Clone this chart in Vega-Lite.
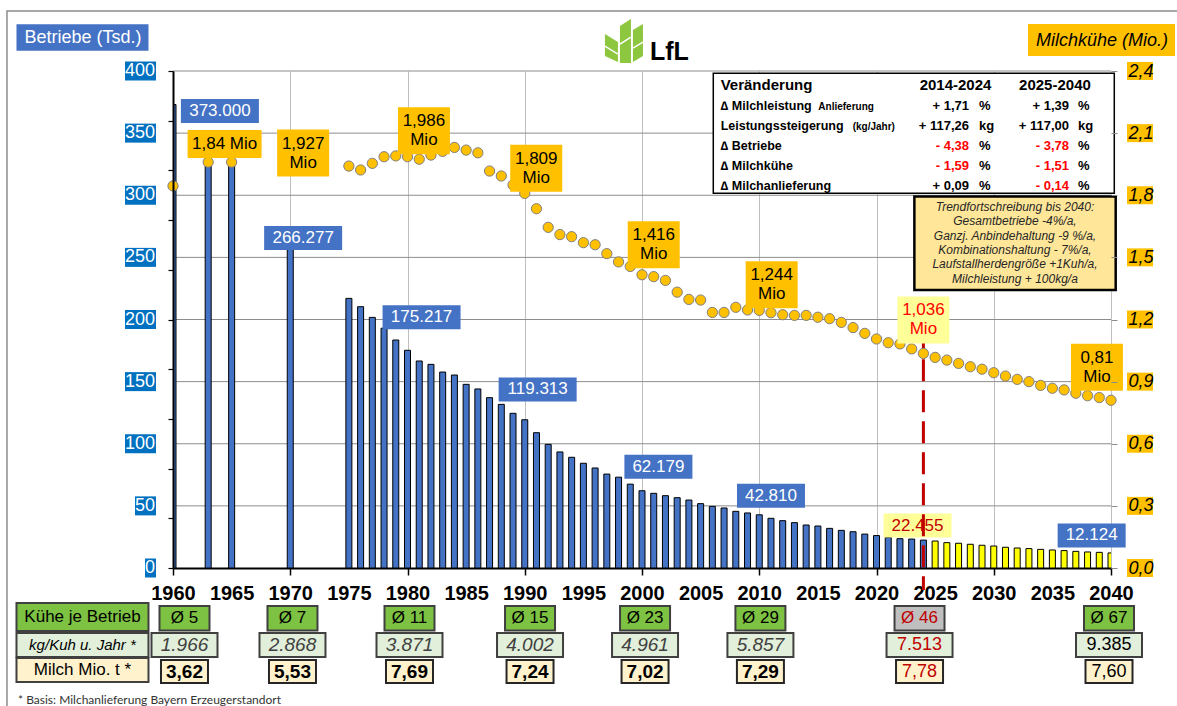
{
  "$schema": "https://vega.github.io/schema/vega-lite/v6.json",
  "width": 938,
  "height": 497,
  "autosize": {"type": "none"},
  "padding": {"left": 173, "top": 71, "right": 66, "bottom": 138},
  "background": "white",
  "config": {"font": "Liberation Sans", "view": {"stroke": null}, "scale": {"continuousPadding": 0}},
  "datasets": {
    "bars": [
      {"year":1960,"n":373.0,"typ":"Ist"},{"year":1963,"n":327,"typ":"Ist"},{"year":1965,"n":326,"typ":"Ist"},{"year":1970,"n":266.277,"typ":"Ist"},
      {"year":1975,"n":217,"typ":"Ist"},{"year":1976,"n":210.3,"typ":"Ist"},{"year":1977,"n":201.7,"typ":"Ist"},{"year":1978,"n":193,"typ":"Ist"},{"year":1979,"n":183.5,"typ":"Ist"},
      {"year":1980,"n":175.217,"typ":"Ist"},{"year":1981,"n":166.6,"typ":"Ist"},{"year":1982,"n":163.9,"typ":"Ist"},{"year":1983,"n":157.7,"typ":"Ist"},{"year":1984,"n":155.3,"typ":"Ist"},
      {"year":1985,"n":147.8,"typ":"Ist"},{"year":1986,"n":144.1,"typ":"Ist"},{"year":1987,"n":137.1,"typ":"Ist"},{"year":1988,"n":131.7,"typ":"Ist"},{"year":1989,"n":124.5,"typ":"Ist"},
      {"year":1990,"n":119.313,"typ":"Ist"},{"year":1991,"n":108.9,"typ":"Ist"},{"year":1992,"n":99.5,"typ":"Ist"},{"year":1993,"n":93.4,"typ":"Ist"},{"year":1994,"n":89.1,"typ":"Ist"},
      {"year":1995,"n":84.3,"typ":"Ist"},{"year":1996,"n":80.5,"typ":"Ist"},{"year":1997,"n":75.6,"typ":"Ist"},{"year":1998,"n":73.1,"typ":"Ist"},{"year":1999,"n":67.5,"typ":"Ist"},
      {"year":2000,"n":62.179,"typ":"Ist"},{"year":2001,"n":60.1,"typ":"Ist"},{"year":2002,"n":58.2,"typ":"Ist"},{"year":2003,"n":56.6,"typ":"Ist"},{"year":2004,"n":54.7,"typ":"Ist"},
      {"year":2005,"n":51.8,"typ":"Ist"},{"year":2006,"n":49.6,"typ":"Ist"},{"year":2007,"n":48.3,"typ":"Ist"},{"year":2008,"n":45.6,"typ":"Ist"},{"year":2009,"n":44.3,"typ":"Ist"},
      {"year":2010,"n":42.81,"typ":"Ist"},{"year":2011,"n":40.0,"typ":"Ist"},{"year":2012,"n":38.1,"typ":"Ist"},{"year":2013,"n":36.5,"typ":"Ist"},{"year":2014,"n":34.6,"typ":"Ist"},
      {"year":2015,"n":33.8,"typ":"Ist"},{"year":2016,"n":31.9,"typ":"Ist"},{"year":2017,"n":30.3,"typ":"Ist"},{"year":2018,"n":29.2,"typ":"Ist"},{"year":2019,"n":27.3,"typ":"Ist"},
      {"year":2020,"n":26.1,"typ":"Ist"},{"year":2021,"n":24.6,"typ":"Ist"},{"year":2022,"n":23.6,"typ":"Ist"},{"year":2023,"n":23.3,"typ":"Ist"},{"year":2024,"n":22.455,"typ":"Ist"},
      {"year":2025,"n":21.7,"typ":"Prognose"},{"year":2026,"n":20.4,"typ":"Prognose"},{"year":2027,"n":19.9,"typ":"Prognose"},{"year":2028,"n":19.1,"typ":"Prognose"},
      {"year":2029,"n":18.3,"typ":"Prognose"},{"year":2030,"n":17.7,"typ":"Prognose"},{"year":2031,"n":16.7,"typ":"Prognose"},{"year":2032,"n":16.1,"typ":"Prognose"},
      {"year":2033,"n":15.6,"typ":"Prognose"},{"year":2034,"n":15.0,"typ":"Prognose"},{"year":2035,"n":14.5,"typ":"Prognose"},{"year":2036,"n":14.0,"typ":"Prognose"},
      {"year":2037,"n":13.4,"typ":"Prognose"},{"year":2038,"n":12.9,"typ":"Prognose"},{"year":2039,"n":12.6,"typ":"Prognose"},{"year":2040,"n":12.124,"typ":"Prognose"}
    ],
    "cows": [
      {"year":1960,"mio":1.845},{"year":1963,"mio":1.96},{"year":1965,"mio":1.96},{"year":1970,"mio":1.927},
      {"year":1975,"mio":1.941},{"year":1976,"mio":1.922},{"year":1977,"mio":1.954},{"year":1978,"mio":1.986},{"year":1979,"mio":1.99},
      {"year":1980,"mio":1.986},{"year":1981,"mio":1.974},{"year":1982,"mio":1.994},{"year":1983,"mio":2.012},{"year":1984,"mio":2.031},
      {"year":1985,"mio":2.018},{"year":1986,"mio":2.005},{"year":1987,"mio":1.917},{"year":1988,"mio":1.893},{"year":1989,"mio":1.85},
      {"year":1990,"mio":1.809},{"year":1991,"mio":1.735},{"year":1992,"mio":1.645},{"year":1993,"mio":1.61},{"year":1994,"mio":1.6},
      {"year":1995,"mio":1.571},{"year":1996,"mio":1.561},{"year":1997,"mio":1.518},{"year":1998,"mio":1.478},{"year":1999,"mio":1.456},
      {"year":2000,"mio":1.416},{"year":2001,"mio":1.407},{"year":2002,"mio":1.389},{"year":2003,"mio":1.332},{"year":2004,"mio":1.297},
      {"year":2005,"mio":1.294},{"year":2006,"mio":1.234},{"year":2007,"mio":1.234},{"year":2008,"mio":1.259},{"year":2009,"mio":1.246},
      {"year":2010,"mio":1.244},{"year":2011,"mio":1.233},{"year":2012,"mio":1.223},{"year":2013,"mio":1.22},{"year":2014,"mio":1.22},
      {"year":2015,"mio":1.211},{"year":2016,"mio":1.204},{"year":2017,"mio":1.186},{"year":2018,"mio":1.161},{"year":2019,"mio":1.133},
      {"year":2020,"mio":1.106},{"year":2021,"mio":1.088},{"year":2022,"mio":1.082},{"year":2023,"mio":1.058},{"year":2024,"mio":1.036},
      {"year":2025,"mio":1.017},{"year":2026,"mio":1.004},{"year":2027,"mio":0.988},{"year":2028,"mio":0.972},{"year":2029,"mio":0.96},
      {"year":2030,"mio":0.943},{"year":2031,"mio":0.927},{"year":2032,"mio":0.911},{"year":2033,"mio":0.9},{"year":2034,"mio":0.882},
      {"year":2035,"mio":0.868},{"year":2036,"mio":0.86},{"year":2037,"mio":0.844},{"year":2038,"mio":0.832},{"year":2039,"mio":0.823},{"year":2040,"mio":0.81}
    ],
    "ytick": [{"v":0},{"v":50},{"v":100},{"v":150},{"v":200},{"v":250},{"v":300},{"v":350},{"v":400}],
    "rtick": [{"v":0},{"v":0.3},{"v":0.6},{"v":0.9},{"v":1.2},{"v":1.5},{"v":1.8},{"v":2.1},{"v":2.4}],
    "barlab": [
      {"year":1960,"lx":1964.0,"ly":367.8,"t":"373.000"},
      {"year":1970,"lx":1971.1,"ly":265.6,"t":"266.277"},
      {"year":1980,"lx":1981.2,"ly":201.9,"t":"175.217"},
      {"year":1990,"lx":1991.1,"ly":143.7,"t":"119.313"},
      {"year":2000,"lx":2001.4,"ly":81.5,"t":"62.179"},
      {"year":2010,"lx":2011.0,"ly":58.1,"t":"42.810"},
      {"year":2024,"lx":2023.5,"ly":34.2,"t":"22.455"},
      {"year":2040,"lx":2038.35,"ly":26.2,"t":"12.124"}
    ],
    "cowlab": [
      {"year":1970,"lx":1971.1,"ly":2.004,"t":"1,927\nMio"},
      {"year":1980,"lx":1981.4,"ly":2.111,"t":"1,986\nMio"},
      {"year":1990,"lx":1990.98,"ly":1.93,"t":"1,809\nMio"},
      {"year":2000,"lx":2001.0,"ly":1.561,"t":"1,416\nMio"},
      {"year":2010,"lx":2011.06,"ly":1.368,"t":"1,244\nMio"},
      {"year":2024,"lx":2024.0,"ly":1.198,"t":"1,036\nMio"},
      {"year":2040,"lx":2038.8,"ly":0.97,"t":"0,81\nMio"}
    ],
    "cowlab1": [{"year":1960,"lx":1964.4,"ly":2.047,"t":"1,84 Mio"}],
    "tab": [
      {"ly":368.6,"lab":"∆ Milchleistung","v1":"+ 1,71","u1":"%","v2":"+ 1,39","u2":"%"},
      {"ly":352.5,"lab":"Leistungssteigerung","v1":"+ 117,26","u1":"kg","v2":"+ 117,00","u2":"kg"},
      {"ly":336.4,"lab":"∆ Betriebe","v1":"- 4,38","u1":"%","v2":"- 3,78","u2":"%"},
      {"ly":320.3,"lab":"∆ Milchkühe","v1":"- 1,59","u1":"%","v2":"- 1,51","u2":"%"},
      {"ly":304.5,"lab":"∆ Milchanlieferung","v1":"+ 0,09","u1":"%","v2":"- 0,14","u2":"%"}
    ],
    "cells": [
      {"pos":1960.98,"year":1960,"k":"Ø 5","kg":"1.966","m":"3,62"},
      {"pos":1970.19,"year":1970,"k":"Ø 7","kg":"2.868","m":"5,53"},
      {"pos":1980.17,"year":1980,"k":"Ø 11","kg":"3.871","m":"7,69"},
      {"pos":1990.45,"year":1990,"k":"Ø 15","kg":"4.002","m":"7,24"},
      {"pos":2000.26,"year":2000,"k":"Ø 23","kg":"4.961","m":"7,02"},
      {"pos":2010.1,"year":2010,"k":"Ø 29","kg":"5.857","m":"7,29"},
      {"pos":2023.67,"year":2024,"k":"Ø 46","kg":"7.513","m":"7,78"},
      {"pos":2039.83,"year":2040,"k":"Ø 67","kg":"9.385","m":"7,60"}
    ]
  },
  "layer": [
    {
      "layer": [
        {
          "data": {"values": [{}]},
          "mark": {"type": "rect", "filled": false, "stroke": "#8C8C8C", "strokeWidth": 1.5},
          "encoding": {
            "x": {
              "datum": 1945.84,
              "scale": {"domain": [1960, 2040], "nice": false, "zero": false, "padding": 0},
              "axis": {
                "values": [1960,1965,1970,1975,1980,1985,1990,1995,2000,2005,2010,2015,2020,2025,2030,2035,2040],
                "format": "d", "title": null,
                "labelFontSize": 20, "labelFontWeight": "bold", "labelColor": "black", "labelPadding": 8,
                "labelFlush": false, "labelOverlap": false, "labelBound": false,
                "tickSize": 7, "tickColor": "black", "tickWidth": 1.5,
                "tickOpacity": {"condition": {"test": "datum.value % 10 === 0", "value": 1}, "value": 0},
                "grid": true, "gridColor": "#BFBFBF", "gridWidth": 1,
                "gridOpacity": {"condition": {"test": "datum.value % 10 === 0 && datum.value > 1960", "value": 1}, "value": 0},
                "domainColor": "black", "domainWidth": 2
              }
            },
            "x2": {"datum": 2046.5},
            "y": {
              "datum": 448.3,
              "scale": {"domain": [0, 400], "nice": false, "zero": false},
              "axis": {
                "values": [0,10,20,30,40,50,60,70,80,90,100,110,120,130,140,150,160,170,180,190,200,210,220,230,240,250,260,270,280,290,300,310,320,330,340,350,360,370,380,390,400],
                "labels": false,
                "tickSize": 5, "tickColor": "black", "tickWidth": 1.2,
                "domainColor": "black", "domainWidth": 2, "grid": false, "zindex": 1,
                "title": "Betriebe (Tsd.)", "titleAngle": 0, "titleX": -90.5, "titleY": -33.5,
                "titleAlign": "center", "titleBaseline": "middle", "titleColor": "white",
                "titleFontSize": 18, "titleFontWeight": "normal"
              }
            },
            "y2": {"datum": -115}
          }
        },
        {
          "data": {"name": "ytick"},
          "transform": [{"filter": "datum.v > 0"}],
          "mark": {"type": "rule", "color": "#8C8C8C", "strokeWidth": 1},
          "encoding": {"y": {"field": "v", "type": "quantitative"}}
        },
        {
          "data": {"name": "bars"},
          "mark": {"type": "bar", "width": 6, "stroke": "black", "strokeWidth": 1, "clip": true},
          "encoding": {
            "x": {"field": "year", "type": "quantitative"},
            "y": {"field": "n", "type": "quantitative"},
            "color": {
              "field": "typ", "type": "nominal",
              "scale": {"domain": ["Ist", "Prognose"], "range": ["#4472C4", "#FFFF00"]},
              "legend": null
            }
          }
        },
        {
          "data": {"name": "ytick"},
          "transform": [{"filter": "datum.v >= 100"}],
          "mark": {"type": "bar", "orient": "vertical", "width": 31, "fill": "#0070C0", "yOffset": -9.5, "y2Offset": 9.5},
          "encoding": {
            "x": {"datum": 1957.228},
            "y": {"field": "v", "type": "quantitative"},
            "y2": {"field": "v"}
          }
        },
        {
          "data": {"name": "ytick"},
          "transform": [{"filter": "datum.v === 50"}],
          "mark": {"type": "bar", "orient": "vertical", "width": 21, "fill": "#0070C0", "yOffset": -9.5, "y2Offset": 9.5},
          "encoding": {
            "x": {"datum": 1957.655},
            "y": {"field": "v", "type": "quantitative"},
            "y2": {"field": "v"}
          }
        },
        {
          "data": {"name": "ytick"},
          "transform": [{"filter": "datum.v === 0"}],
          "mark": {"type": "bar", "orient": "vertical", "width": 11, "fill": "#0070C0", "yOffset": -9.5, "y2Offset": 9.5},
          "encoding": {
            "x": {"datum": 1958.081},
            "y": {"field": "v", "type": "quantitative"},
            "y2": {"field": "v"}
          }
        },
        {
          "data": {"name": "ytick"},
          "mark": {"type": "text", "align": "right", "baseline": "middle", "fontSize": 18, "color": "white"},
          "encoding": {
            "x": {"datum": 1958.465},
            "y": {"field": "v", "type": "quantitative"},
            "text": {"field": "v", "type": "quantitative", "format": "d"}
          }
        },
        {
          "data": {"values": [{}]},
          "mark": {"type": "bar", "orient": "vertical", "width": 132, "fill": "#4472C4"},
          "encoding": {
            "x": {"datum": 1952.28},
            "y": {"datum": 437.6}, "y2": {"datum": 416.3}
          }
        },
        {
          "data": {"name": "barlab"},
          "layer": [
            {
              "mark": {"type": "bar", "orient": "vertical", "yOffset": -12, "y2Offset": 12},
              "encoding": {
                "x": {"field": "lx", "type": "quantitative"},
                "y": {"field": "ly", "type": "quantitative"},
                "y2": {"field": "ly"},
                "size": {"condition": {"test": "length(datum.t) > 6", "value": 78}, "value": 68},
                "fill": {"condition": {"test": "datum.year === 2024", "value": "#FFFF99"}, "value": "#4472C4"}
              }
            },
            {
              "mark": {"type": "text", "fontSize": 17, "align": "center", "baseline": "middle"},
              "encoding": {
                "x": {"field": "lx", "type": "quantitative"},
                "y": {"field": "ly", "type": "quantitative"},
                "text": {"field": "t"},
                "color": {"condition": {"test": "datum.year === 2024", "value": "#C00000"}, "value": "white"}
              }
            }
          ]
        },
        {
          "data": {"values": [{}]},
          "mark": {"type": "rect", "fill": "white", "stroke": "black", "strokeWidth": 1.5},
          "encoding": {
            "x": {"datum": 2006.08}, "x2": {"datum": 2040.28},
            "y": {"datum": 398.1}, "y2": {"datum": 301.6}
          }
        },
        {
          "data": {"values": [{"a": "Veränderung", "b": "2014-2024", "c": "2025-2040"}]},
          "layer": [
            {
              "mark": {"type": "text", "align": "left", "baseline": "alphabetic", "fontSize": 15, "fontWeight": "bold", "color": "black"},
              "encoding": {"x": {"datum": 2006.71}, "y": {"datum": 384.7}, "text": {"field": "a"}}
            },
            {
              "mark": {"type": "text", "align": "center", "baseline": "alphabetic", "fontSize": 15, "fontWeight": "bold", "color": "black"},
              "encoding": {"x": {"datum": 2026.74}, "y": {"datum": 384.7}, "text": {"field": "b"}}
            },
            {
              "mark": {"type": "text", "align": "center", "baseline": "alphabetic", "fontSize": 15, "fontWeight": "bold", "color": "black"},
              "encoding": {"x": {"datum": 2035.22}, "y": {"datum": 384.7}, "text": {"field": "c"}}
            }
          ]
        },
        {
          "data": {"name": "tab"},
          "layer": [
            {
              "mark": {"type": "text", "align": "left", "baseline": "alphabetic", "fontSize": 12.5, "fontWeight": "bold", "color": "black"},
              "encoding": {"x": {"datum": 2006.71}, "y": {"field": "ly", "type": "quantitative"}, "text": {"field": "lab"}}
            },
            {
              "mark": {"type": "text", "align": "right", "baseline": "alphabetic", "fontSize": 13, "fontWeight": "bold"},
              "encoding": {
                "x": {"datum": 2027.89}, "y": {"field": "ly", "type": "quantitative"}, "text": {"field": "v1"},
                "color": {"condition": {"test": "indexof(datum.v1, '-') === 0", "value": "#FF0000"}, "value": "black"}
              }
            },
            {
              "mark": {"type": "text", "align": "left", "baseline": "alphabetic", "fontSize": 13, "fontWeight": "bold", "color": "black"},
              "encoding": {"x": {"datum": 2028.74}, "y": {"field": "ly", "type": "quantitative"}, "text": {"field": "u1"}}
            },
            {
              "mark": {"type": "text", "align": "right", "baseline": "alphabetic", "fontSize": 13, "fontWeight": "bold"},
              "encoding": {
                "x": {"datum": 2036.42}, "y": {"field": "ly", "type": "quantitative"}, "text": {"field": "v2"},
                "color": {"condition": {"test": "indexof(datum.v2, '-') === 0", "value": "#FF0000"}, "value": "black"}
              }
            },
            {
              "mark": {"type": "text", "align": "left", "baseline": "alphabetic", "fontSize": 13, "fontWeight": "bold", "color": "black"},
              "encoding": {"x": {"datum": 2037.19}, "y": {"field": "ly", "type": "quantitative"}, "text": {"field": "u2"}}
            }
          ]
        },
        {
          "data": {"values": [{"s": "Anlieferung"}]},
          "mark": {"type": "text", "align": "left", "baseline": "alphabetic", "fontSize": 10, "fontWeight": "bold", "color": "black"},
          "encoding": {"x": {"datum": 2015.04}, "y": {"datum": 368.6}, "text": {"field": "s"}}
        },
        {
          "data": {"values": [{"s": "(kg/Jahr)"}]},
          "mark": {"type": "text", "align": "left", "baseline": "alphabetic", "fontSize": 10, "fontWeight": "bold", "color": "black"},
          "encoding": {"x": {"datum": 2017.97}, "y": {"datum": 352.5}, "text": {"field": "s"}}
        },
        {
          "data": {"values": [{}]},
          "mark": {"type": "rect", "fill": "#FFE699", "stroke": "black", "strokeWidth": 2.5},
          "encoding": {
            "x": {"datum": 2023.23}, "x2": {"datum": 2040.4},
            "y": {"datum": 298.9}, "y2": {"datum": 223.7}
          }
        },
        {
          "data": {"values": [{"t": "Trendfortschreibung bis 2040:\nGesamtbetriebe -4%/a,\nGanzj. Anbindehaltung -9 %/a,\nKombinationshaltung - 7%/a,\nLaufstallherdengröße +1Kuh/a,\nMilchleistung + 100kg/a"}]},
          "mark": {"type": "text", "lineBreak": "\n", "lineHeight": 14.3, "fontSize": 12, "fontStyle": "italic", "align": "center", "baseline": "middle", "dy": -35.7, "color": "#262626"},
          "encoding": {"x": {"datum": 2031.81}, "y": {"datum": 261.8}, "text": {"field": "t"}}
        },
        {
          "data": {"values": [{"h": "Kühe je Betrieb"}]},
          "layer": [
            {
              "mark": {"type": "bar", "orient": "vertical", "width": 132, "fill": "#7DC242", "stroke": "#404040", "strokeWidth": 2},
              "encoding": {"x": {"datum": 1952.28}, "y": {"datum": -28.2}, "y2": {"datum": -50.7}}
            },
            {
              "mark": {"type": "text", "fontSize": 17, "color": "black", "align": "center", "baseline": "middle"},
              "encoding": {"x": {"datum": 1952.28}, "y": {"datum": -39.4}, "text": {"field": "h"}}
            }
          ]
        },
        {
          "data": {"values": [{"h": "kg/Kuh u. Jahr *"}]},
          "layer": [
            {
              "mark": {"type": "bar", "orient": "vertical", "width": 132, "fill": "#E2EFDA", "stroke": "#404040", "strokeWidth": 2},
              "encoding": {"x": {"datum": 1952.28}, "y": {"datum": -52.3}, "y2": {"datum": -71.6}}
            },
            {
              "mark": {"type": "text", "fontSize": 15, "fontStyle": "italic", "color": "black", "align": "center", "baseline": "middle"},
              "encoding": {"x": {"datum": 1952.28}, "y": {"datum": -62.0}, "text": {"field": "h"}}
            }
          ]
        },
        {
          "data": {"values": [{"h": "Milch Mio. t *"}]},
          "layer": [
            {
              "mark": {"type": "bar", "orient": "vertical", "width": 132, "fill": "#FFF2CC", "stroke": "#404040", "strokeWidth": 2},
              "encoding": {"x": {"datum": 1952.28}, "y": {"datum": -72.4}, "y2": {"datum": -91.8}}
            },
            {
              "mark": {"type": "text", "fontSize": 17, "color": "black", "align": "center", "baseline": "middle"},
              "encoding": {"x": {"datum": 1952.28}, "y": {"datum": -82.1}, "text": {"field": "h"}}
            }
          ]
        },
        {
          "data": {"name": "cells"},
          "layer": [
            {
              "mark": {"type": "bar", "orient": "vertical", "width": 50, "stroke": "#404040", "strokeWidth": 2},
              "encoding": {
                "x": {"field": "pos", "type": "quantitative"},
                "y": {"datum": -30.6}, "y2": {"datum": -50.3},
                "fill": {"condition": {"test": "datum.year === 2024", "value": "#BFBFBF"}, "value": "#7DC242"}
              }
            },
            {
              "mark": {"type": "text", "fontSize": 17, "align": "center", "baseline": "middle"},
              "encoding": {
                "x": {"field": "pos", "type": "quantitative"},
                "y": {"datum": -40.4}, "text": {"field": "k"},
                "color": {"condition": {"test": "datum.year === 2024", "value": "#C00000"}, "value": "black"}
              }
            },
            {
              "mark": {"type": "bar", "orient": "vertical", "width": 66, "fill": "#E2EFDA", "stroke": "#404040", "strokeWidth": 2},
              "encoding": {
                "x": {"field": "pos", "type": "quantitative"},
                "y": {"datum": -52.3}, "y2": {"datum": -71.6}
              }
            },
            {
              "transform": [{"filter": "datum.year < 2020"}],
              "mark": {"type": "text", "fontSize": 19, "fontStyle": "italic", "color": "#404040", "align": "center", "baseline": "middle"},
              "encoding": {
                "x": {"field": "pos", "type": "quantitative"},
                "y": {"datum": -62.0}, "text": {"field": "kg"}
              }
            },
            {
              "transform": [{"filter": "datum.year >= 2020"}],
              "mark": {"type": "text", "fontSize": 18, "align": "center", "baseline": "middle"},
              "encoding": {
                "x": {"field": "pos", "type": "quantitative"},
                "y": {"datum": -62.0}, "text": {"field": "kg"},
                "color": {"condition": {"test": "datum.year === 2024", "value": "#C00000"}, "value": "black"}
              }
            },
            {
              "mark": {"type": "bar", "orient": "vertical", "width": 47, "fill": "#FFF2CC", "stroke": "#262626", "strokeWidth": 2},
              "encoding": {
                "x": {"field": "pos", "type": "quantitative"},
                "y": {"datum": -74.0}, "y2": {"datum": -92.6}
              }
            },
            {
              "transform": [{"filter": "datum.year < 2020"}],
              "mark": {"type": "text", "fontSize": 19, "fontWeight": "bold", "color": "black", "align": "center", "baseline": "middle"},
              "encoding": {
                "x": {"field": "pos", "type": "quantitative"},
                "y": {"datum": -83.3}, "text": {"field": "m"}
              }
            },
            {
              "transform": [{"filter": "datum.year >= 2020"}],
              "mark": {"type": "text", "fontSize": 18, "align": "center", "baseline": "middle"},
              "encoding": {
                "x": {"field": "pos", "type": "quantitative"},
                "y": {"datum": -83.3}, "text": {"field": "m"},
                "color": {"condition": {"test": "datum.year === 2024", "value": "#C00000"}, "value": "black"}
              }
            }
          ]
        },
        {
          "data": {"values": [{}]},
          "layer": [
            {
              "mark": {"type": "point", "shape": "M-0.864,-0.318L-0.273,0.045L-0.273,0.955L-0.864,0.682ZM-0.182,-0.682L0.318,-1L0.318,1L-0.182,1ZM0.409,-0.5L0.864,-0.773L0.864,0.682L0.409,0.955Z", "filled": true, "fill": "#8DC63F", "strokeWidth": 0, "size": 1936, "opacity": 1},
              "encoding": {"x": {"datum": 1998.46}, "y": {"datum": 424.1}}
            },
            {
              "mark": {"type": "point", "shape": "M-0.864,0.227L-0.273,0.591M-0.182,0.136L0.318,-0.182M0.409,0.318L0.864,0.045", "filled": false, "stroke": "white", "strokeWidth": 1.5, "size": 1936, "opacity": 1},
              "encoding": {"x": {"datum": 1998.46}, "y": {"datum": 424.1}}
            },
            {
              "mark": {"type": "text", "text": "LfL", "align": "left", "baseline": "alphabetic", "fontSize": 25, "fontWeight": "bold", "color": "black"},
              "encoding": {"x": {"datum": 2000.68}, "y": {"datum": 408.9}}
            }
          ]
        },
        {
          "data": {"values": [{"t": "* Basis: Milchanlieferung Bayern Erzeugerstandort"}]},
          "mark": {"type": "text", "align": "left", "baseline": "middle", "fontSize": 12, "font": "Lato", "color": "#333333"},
          "encoding": {"x": {"datum": 1946.78}, "y": {"datum": -106.2}, "text": {"field": "t"}}
        },
        {
          "data": {"values": [{}]},
          "mark": {"type": "rule", "color": "#C00000", "strokeWidth": 3, "strokeDash": [22, 9]},
          "encoding": {"x": {"datum": 2024}, "y": {"datum": 218}, "y2": {"datum": -17.7}}
        }
      ]
    },
    {
      "layer": [
        {
          "data": {"name": "cows"},
          "mark": {"type": "point", "filled": true, "fill": "#FFC000", "stroke": "#7F7F7F", "strokeWidth": 1, "size": 105, "opacity": 1},
          "encoding": {
            "x": {"field": "year", "type": "quantitative", "scale": {"domain": [1960, 2040], "nice": false, "zero": false, "padding": 0}},
            "y": {
              "field": "mio", "type": "quantitative",
              "scale": {"domain": [0, 2.4], "nice": false, "zero": false},
              "axis": {
                "orient": "right",
                "values": [0, 0.3, 0.6, 0.9, 1.2, 1.5, 1.8, 2.1, 2.4],
                "labelExpr": "replace(format(datum.value, '.1f'), '.', ',')",
                "labelFontSize": 18, "labelFontStyle": "italic", "labelColor": "black", "labelPadding": 11,
                "labelFlush": false, "labelOverlap": false, "labelBound": false,
                "tickSize": 6, "tickColor": "#8C8C8C", "tickWidth": 1,
                "domain": false, "grid": false, "zindex": 1,
                "title": "Milchkühe (Mio.)", "titleAngle": 0, "titleX": -9.5, "titleY": -31,
                "titleAlign": "center", "titleBaseline": "middle", "titleFontSize": 18,
                "titleFontStyle": "italic", "titleFontWeight": "normal", "titleColor": "black"
              }
            }
          }
        },
        {
          "data": {"name": "rtick"},
          "mark": {"type": "bar", "orient": "vertical", "width": 26, "fill": "#FFC000", "yOffset": -9, "y2Offset": 9},
          "encoding": {
            "x": {"datum": 2042.473},
            "y": {"field": "v", "type": "quantitative"},
            "y2": {"field": "v"}
          }
        },
        {
          "data": {"values": [{}]},
          "mark": {"type": "bar", "orient": "vertical", "width": 147, "fill": "#FFC000"},
          "encoding": {
            "x": {"datum": 2039.19},
            "y": {"datum": 2.627}, "y2": {"datum": 2.472}
          }
        },
        {
          "data": {"name": "cowlab"},
          "layer": [
            {
              "mark": {"type": "bar", "orient": "vertical", "width": 52, "yOffset": -23.5, "y2Offset": 23.5},
              "encoding": {
                "x": {"field": "lx", "type": "quantitative"},
                "y": {"field": "ly", "type": "quantitative"},
                "y2": {"field": "ly"},
                "fill": {"condition": {"test": "datum.year === 2024", "value": "#FFFF99"}, "value": "#FFC000"}
              }
            },
            {
              "mark": {"type": "text", "fontSize": 17, "lineBreak": "\n", "lineHeight": 19, "align": "center", "baseline": "middle", "dy": -9.5},
              "encoding": {
                "x": {"field": "lx", "type": "quantitative"},
                "y": {"field": "ly", "type": "quantitative"},
                "text": {"field": "t"},
                "color": {"condition": {"test": "datum.year === 2024", "value": "#FF0000"}, "value": "black"}
              }
            }
          ]
        },
        {
          "data": {"name": "cowlab1"},
          "layer": [
            {
              "mark": {"type": "bar", "orient": "vertical", "width": 74, "fill": "#FFC000", "yOffset": -14, "y2Offset": 14},
              "encoding": {
                "x": {"field": "lx", "type": "quantitative"},
                "y": {"field": "ly", "type": "quantitative"},
                "y2": {"field": "ly"}
              }
            },
            {
              "mark": {"type": "text", "fontSize": 17, "align": "center", "baseline": "middle", "color": "black"},
              "encoding": {
                "x": {"field": "lx", "type": "quantitative"},
                "y": {"field": "ly", "type": "quantitative"},
                "text": {"field": "t"}
              }
            }
          ]
        }
      ]
    }
  ],
  "resolve": {"scale": {"y": "independent"}}
}
